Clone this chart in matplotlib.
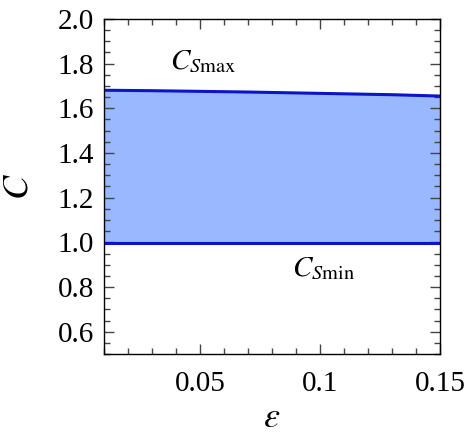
import matplotlib
matplotlib.use("Agg")
import matplotlib.pyplot as plt
from matplotlib.ticker import MultipleLocator

# values
eps = [0.01, 0.03, 0.05, 0.07, 0.09, 0.11, 0.13, 0.15]
c_max = [1.681, 1.679, 1.676, 1.673, 1.669, 1.665, 1.661, 1.655]
c_min = [0.995, 0.995, 0.995, 0.995, 0.995, 0.995, 0.995, 0.995]

plt.rcParams['font.family'] = ['Liberation Serif', 'DejaVu Serif']
plt.rcParams['mathtext.fontset'] = 'stix'

fig = plt.figure(figsize=(4.70, 4.36), dpi=100)
ax = fig.add_axes([104 / 470, 1 - 354 / 436, 336 / 470, 335 / 436])

ax.fill_between(eps, c_min, c_max, color='#99b8ff', linewidth=0)
ax.plot(eps, c_max, color='#0a14c8', linewidth=2.2)
ax.plot(eps, c_min, color='#0a14c8', linewidth=2.2)

ax.set_xlim(0.01, 0.15)
ax.set_ylim(0.5, 2.0)
ax.set_xticks([0.05, 0.1, 0.15])
ax.set_xticklabels(['0.05', '0.1', '0.15'])
ax.set_yticks([0.6, 0.8, 1.0, 1.2, 1.4, 1.6, 1.8, 2.0])
ax.set_yticklabels(['0.6', '0.8', '1.0', '1.2', '1.4', '1.6', '1.8', '2.0'])
ax.xaxis.set_minor_locator(MultipleLocator(0.01))
ax.yaxis.set_minor_locator(MultipleLocator(0.05))
ax.tick_params(which='both', direction='in', top=True, right=True,
               labelsize=21, color='#444444')
ax.tick_params(axis='x', pad=12)
ax.tick_params(axis='y', pad=7)
ax.tick_params(which='major', length=7, width=1)
ax.tick_params(which='minor', length=4, width=1)
for s in ax.spines.values():
    s.set_linewidth(1.0)

ax.text(0.0375, 1.776, r'$C_{S\mathrm{max}}$', fontsize=21)
ax.text(0.0883, 0.85, r'$C_{S\mathrm{min}}$', fontsize=21)

ax.set_xlabel(r'$\varepsilon$', fontsize=26, labelpad=4)
ax.set_ylabel(r'$C$', fontsize=26, labelpad=16)

fig.savefig('out.png', dpi=100)
